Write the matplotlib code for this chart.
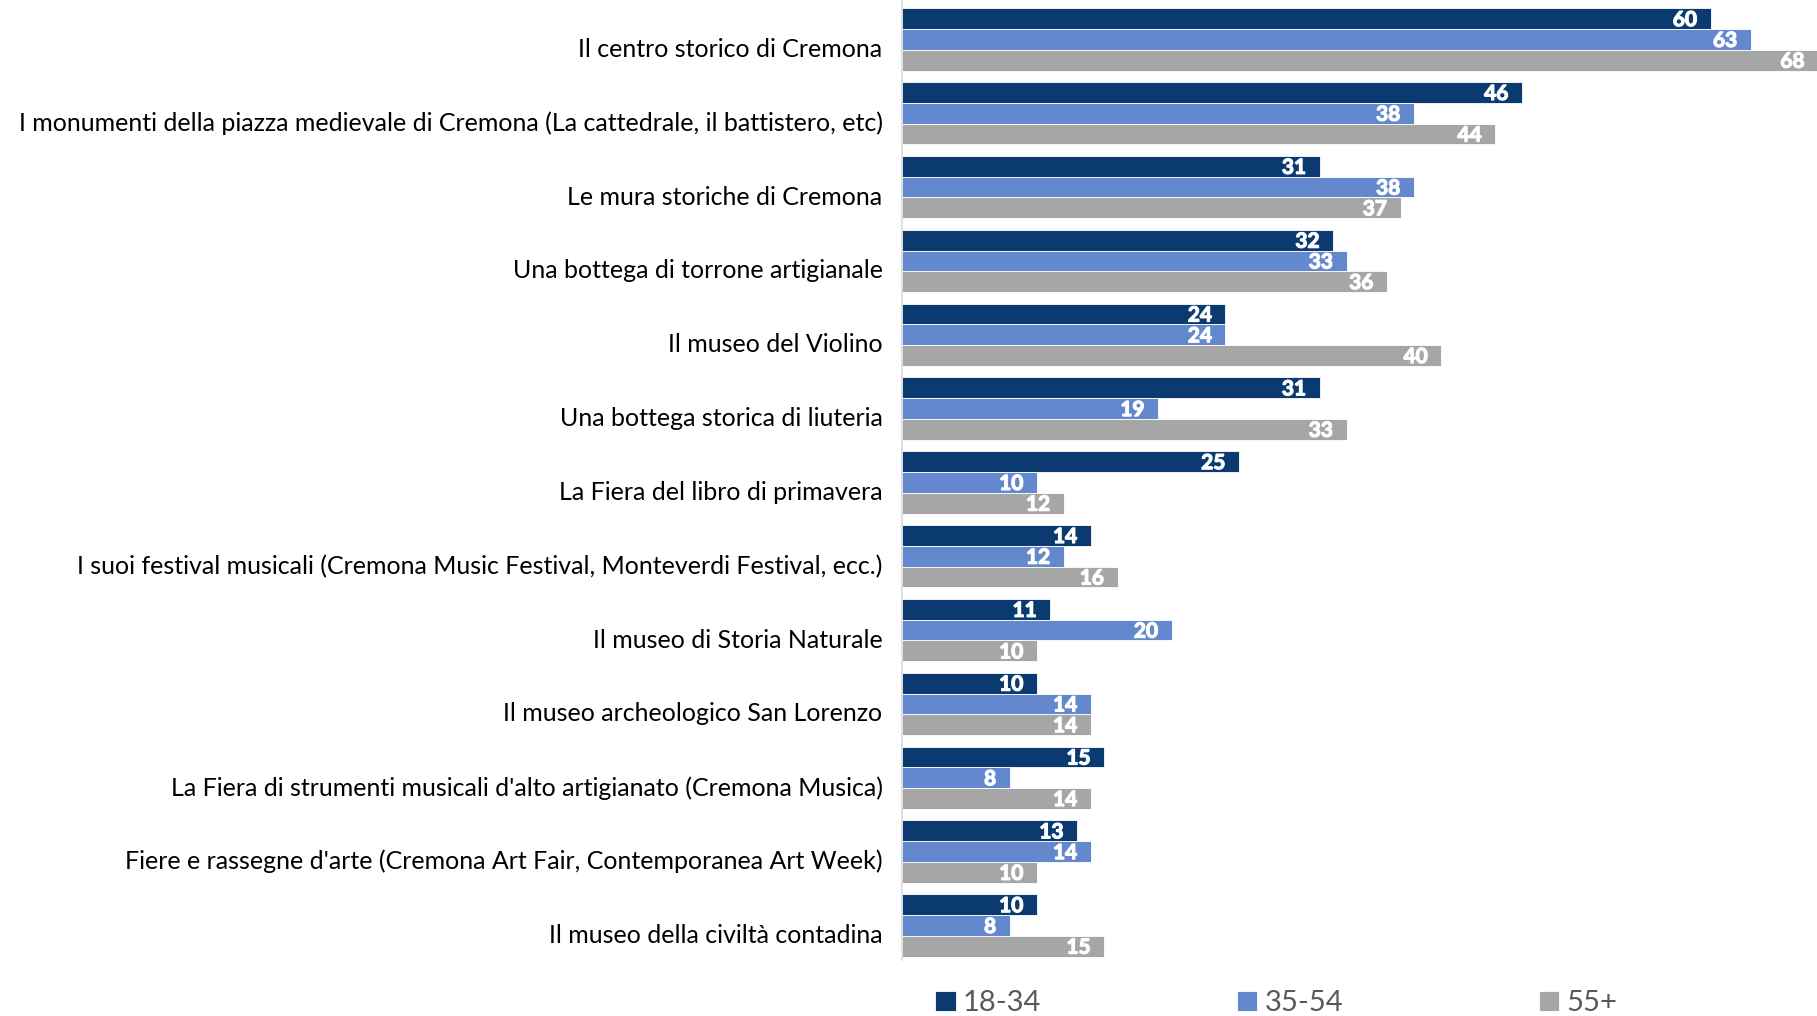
import matplotlib.pyplot as plt
import matplotlib.transforms as mtransforms
import matplotlib.patheffects as pe
import numpy as np

categories = [
    "Il centro storico di Cremona",
    "I monumenti della piazza medievale di Cremona (La cattedrale, il battistero, etc)",
    "Le mura storiche di Cremona",
    "Una bottega di torrone artigianale",
    "Il museo del Violino",
    "Una bottega storica di liuteria",
    "La Fiera del libro di primavera",
    "I suoi festival musicali (Cremona Music Festival, Monteverdi Festival, ecc.)",
    "Il museo di Storia Naturale",
    "Il museo archeologico San Lorenzo",
    "La Fiera di strumenti musicali d'alto artigianato (Cremona Musica)",
    "Fiere e rassegne d'arte (Cremona Art Fair, Contemporanea Art Week)",
    "Il museo della civiltà contadina",
]
age_18_34 = [60, 46, 31, 32, 24, 31, 25, 14, 11, 10, 15, 13, 10]
age_35_54 = [63, 38, 38, 33, 24, 19, 10, 12, 20, 14, 8, 14, 8]
age_55_plus = [68, 44, 37, 36, 40, 33, 12, 16, 10, 14, 14, 10, 15]
series_names = ["18-34", "35-54", "55+"]
colors = ["#0B3A70", "#6388CD", "#A6A6A6"]

fig = plt.figure(figsize=(18.17, 10.16), dpi=100)
ax = fig.add_axes([902 / 1817, 0.055, 1 - 902 / 1817, 0.945])

y = np.arange(len(categories))
h = 0.281
label_font = ["Liberation Sans Narrow", "Lato"]
# thin white outline to thicken the narrow digits
bold_fx = [pe.withStroke(linewidth=0.9, foreground="white")]

for k, (vals, name, col) in enumerate(zip([age_18_34, age_35_54, age_55_plus], series_names, colors)):
    pos = y + (k - 1) * h
    bars = ax.barh(pos, vals, height=h, color=col, edgecolor="white", linewidth=0.6, label=name)
    for b, v in zip(bars, vals):
        ax.text(b.get_width() - 1.0, b.get_y() + b.get_height() / 2 + 0.02, str(v),
                ha="right", va="center", color="white", fontsize=15,
                fontweight="bold", family=label_font, clip_on=True,
                path_effects=bold_fx)

ax.set_xlim(0, 67.9)
ax.set_ylim(12.47, -0.534)
ax.set_yticks(y)
ax.set_yticklabels(categories, fontsize=18, family="Lato")
ax.tick_params(axis="y", length=0, pad=14)
# category names sit a little below the middle of their bar group
shift = mtransforms.ScaledTranslation(0, -8 / 100, fig.dpi_scale_trans)
for lbl in ax.get_yticklabels():
    lbl.set_transform(lbl.get_transform() + shift)
ax.set_xticks([])
for s in ["top", "right", "bottom"]:
    ax.spines[s].set_visible(False)
ax.spines["left"].set_color("#D9D9D9")
ax.spines["left"].set_linewidth(1.2)

fig.legend(loc="center left", bbox_to_anchor=(909 / 1817, 1 - 1003 / 1016), ncol=3,
           frameon=False, handlelength=0.7, handleheight=0.7, handletextpad=0.25,
           columnspacing=6.7, prop={"family": "Lato", "size": 21}, labelcolor="#595959")

fig.savefig("out.png", dpi=100)
